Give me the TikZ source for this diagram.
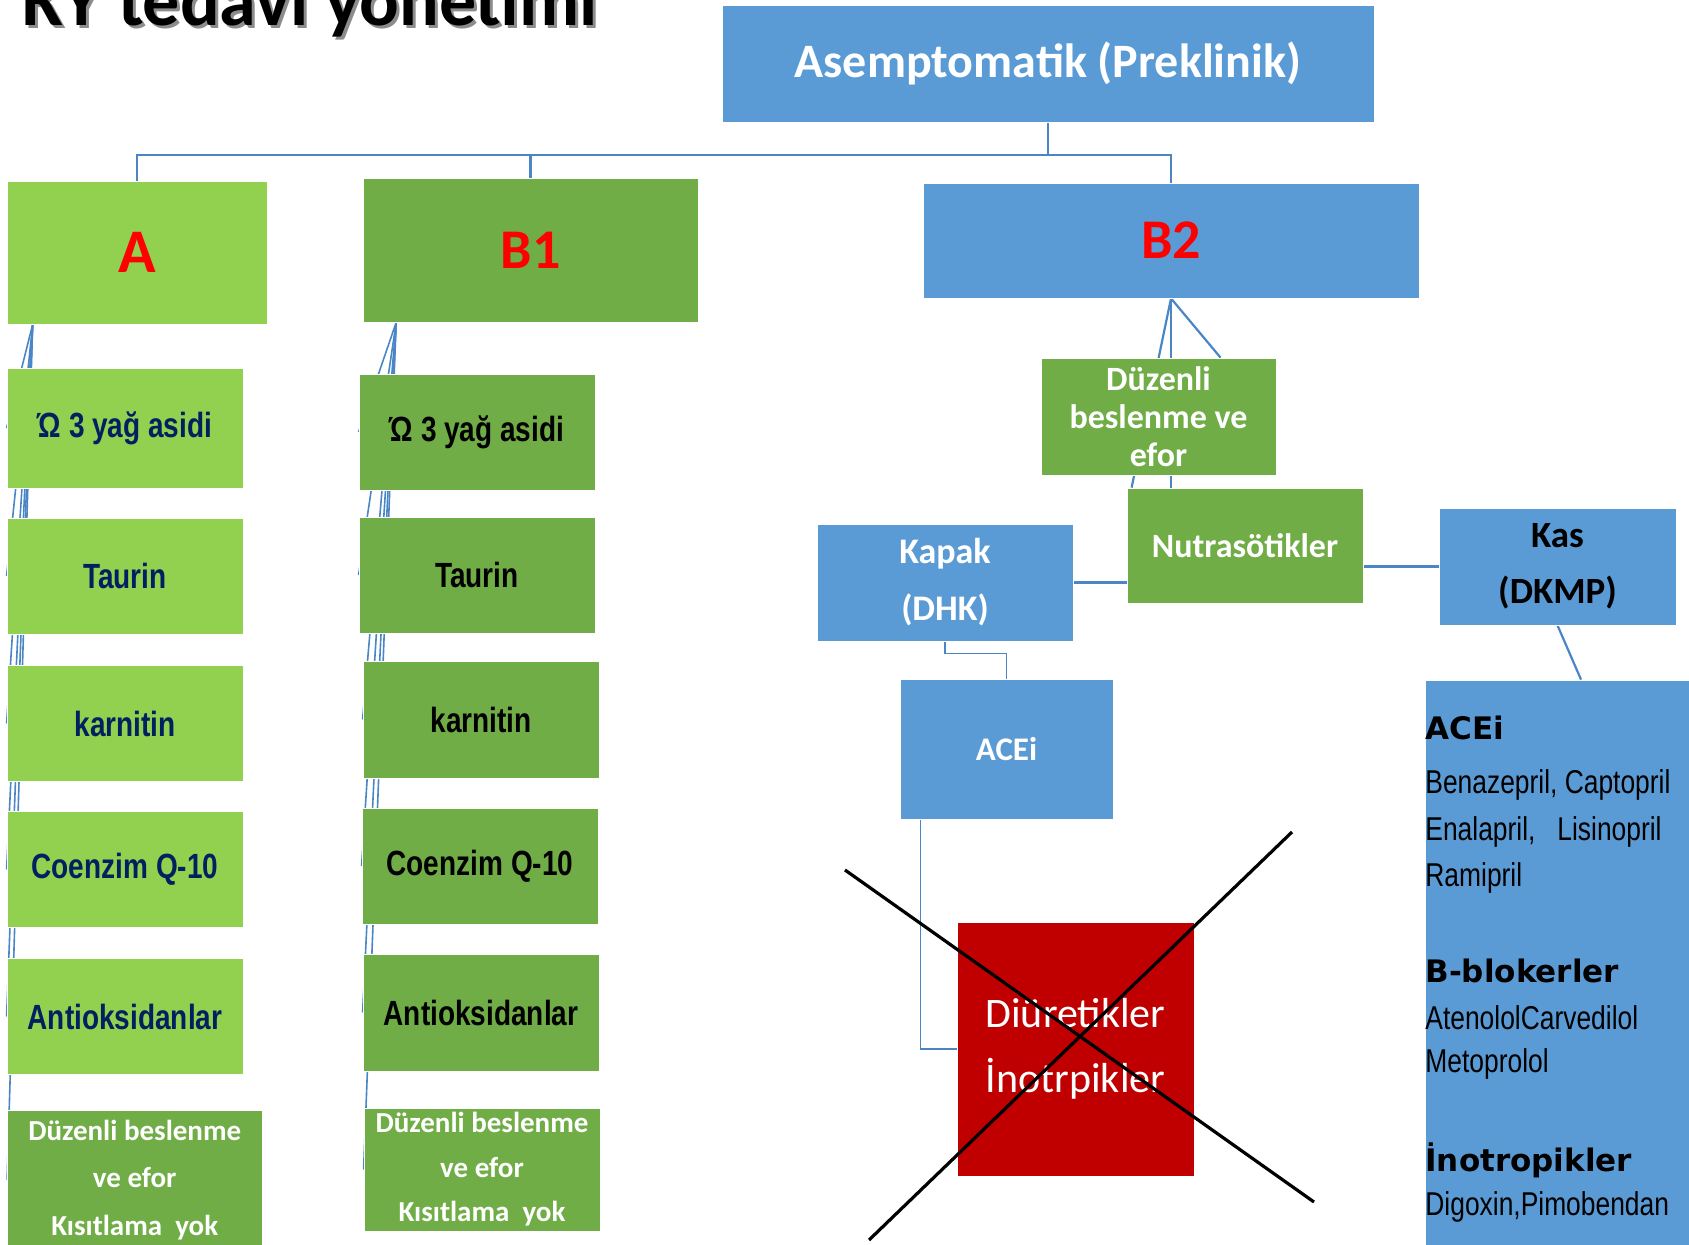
\documentclass[tikz,border=0pt]{standalone}
\usepackage{fontspec}
\setmainfont{Carlito}
\newfontfamily\narrowfont{Liberation Sans}[FakeStretch=0.8]
\newfontfamily\verdfont{DejaVu Sans}
\usetikzlibrary{calc}
\pgfdeclarelayer{background}
\pgfdeclarelayer{foreground}
\pgfsetlayers{background,main,foreground}
\definecolor{lgreen}{HTML}{92D050}
\definecolor{dgreen}{HTML}{70AD47}
\definecolor{sblue}{HTML}{5B9BD5}
\definecolor{lineblue}{HTML}{4A86C5}
\definecolor{navy}{HTML}{002060}
\definecolor{dred}{HTML}{C00000}

\begin{document}
\begin{tikzpicture}[x=0.5pt,y=-0.5pt,
  box/.style={rectangle,draw=white,line width=0.4pt,inner sep=0pt,align=center},
  itemA/.style={box,fill=lgreen,minimum width=118pt,minimum height=58pt,text=navy,font=\narrowfont\bfseries\fontsize{17.5}{21}\selectfont},
  itemB/.style={box,fill=dgreen,minimum width=118pt,minimum height=58pt,text=black,font=\narrowfont\bfseries\fontsize{17.5}{21}\selectfont},
  conn/.style={draw=lineblue,line width=1.1pt},
  fan/.style={draw=lineblue,line width=0.8pt},
  drug/.style={anchor=west,inner sep=0pt,font=\narrowfont\fontsize{16.5}{20}\selectfont},
  drughead/.style={anchor=west,inner sep=0pt,font=\verdfont\bfseries\fontsize{15.5}{18}\selectfont}]
  \useasboundingbox (0,0) rectangle (1689,1245);
  % title
  \node[anchor=base west,inner sep=0pt,text=black!45,font=\bfseries\fontsize{37}{40}\selectfont] (titleshadow) at (25,29) {KY tedavi yönetimi};
  \node[anchor=base west,inner sep=0pt,font=\bfseries\fontsize{37}{40}\selectfont] (title) at (22,26) {KY tedavi yönetimi};
  % levels
  \node[box,fill=sblue,minimum width=326pt,minimum height=58.5pt,text=white,font=\bfseries\fontsize{24}{28}\selectfont] (top) at (1048,63.5) {Asemptomatik (Preklinik)};
  \node[box,fill=lgreen,minimum width=130pt,minimum height=71.5pt,text=red,font=\bfseries\fontsize{31}{36}\selectfont] (A) at (137,252.5) {A};
  \node[box,fill=dgreen,minimum width=167.5pt,minimum height=72pt,text=red,font=\bfseries\fontsize{28}{32}\selectfont] (B1) at (530.5,250) {B1};
  \node[box,fill=sblue,minimum width=248pt,minimum height=57.5pt,text=red,font=\bfseries\fontsize{28}{32}\selectfont] (B2) at (1171,240.5) {B2};
  % column A
  \node[itemA,minimum height=60pt] (omegaA) at (125,428) {Ώ 3 yağ asidi};
  \node[itemA] (taurinA) at (125,576) {Taurin};
  \node[itemA] (karnitinA) at (125,723.5) {karnitin};
  \node[itemA] (coenzimA) at (125,869.5) {Coenzim Q-10};
  \node[itemA] (antioksA) at (125,1016.5) {Antioksidanlar};
  \node[box,fill=dgreen,minimum width=127.25pt,minimum height=70pt,text=white,font=\bfseries\fontsize{14.5}{23.75}\selectfont] (duzenliA) at (134.75,1180) {Düzenli beslenme\\ve efor\\Kısıtlama\ \ yok};
  % column B1
  \node[itemB] (omegaB) at (477,432) {Ώ 3 yağ asidi};
  \node[itemB] (taurinB) at (477,575) {Taurin};
  \node[itemB,minimum height=58.5pt] (karnitinB) at (481,719.5) {karnitin};
  \node[itemB] (coenzimB) at (480,866) {Coenzim Q-10};
  \node[itemB,minimum height=58.5pt] (antioksB) at (481,1012.5) {Antioksidanlar};
  \node[box,fill=dgreen,minimum width=118pt,minimum height=61.5pt,text=white,font=\bfseries\fontsize{14.5}{22.25}\selectfont] (duzenliB) at (482,1169.5) {Düzenli beslenme\\ve efor\\Kısıtlama\ \ yok};
  % B2 branch
  \node[box,fill=dgreen,minimum width=117.5pt,minimum height=58.5pt,text=white,font=\bfseries\fontsize{17}{19}\selectfont] (duzB2) at (1158.5,416.5) {Düzenli\\beslenme ve\\efor};
  \node[box,fill=dgreen,minimum width=118pt,minimum height=57.5pt,text=white,font=\bfseries\fontsize{17}{20}\selectfont] (nutra) at (1245,545.5) {Nutrasötikler};
  \node[box,fill=sblue,minimum width=128pt,minimum height=58.5pt,text=white,font=\bfseries\fontsize{18}{28.5}\selectfont] (kapak) at (945,582.5) {Kapak\\(DHK)};
  \node[box,fill=sblue,minimum width=118.5pt,minimum height=58.5pt,text=black,font=\bfseries\fontsize{18.5}{28}\selectfont] (kas) at (1557.5,566.5) {Kas\\(DKMP)};
  \node[box,fill=sblue,minimum width=106.5pt,minimum height=70pt,text=white,font=\bfseries\fontsize{16.5}{20}\selectfont] (aceiS) at (1006.5,749) {ACEi};
  \node[box,fill=dred,minimum width=118.5pt,minimum height=127pt,text=white,font=\fontsize{21}{32.5}\selectfont] (red) at (1075.5,1049) {Diüretikler\\İnotrpikler};
  \node[box,fill=sblue,minimum width=132pt,minimum height=291pt] (drugs) at (1557,971) {};
  % drug list
  \node[drughead] (hACEi) at (1425,728) {ACEi};
  \node[drug] (d1) at (1425,785) {Benazepril, Captopril};
  \node[drug] (d2) at (1425,832) {Enalapril,\ \ \ Lisinopril};
  \node[drug] (d3) at (1425,878) {Ramipril};
  \node[drughead] (hBB) at (1425,971) {B-blokerler};
  \node[drug] (d4) at (1425,1018) {AtenololCarvedilol};
  \node[drug] (d5) at (1425,1064) {Metoprolol};
  \node[drughead] (hIno) at (1425,1160) {İnotropikler};
  \node[drug] (d6) at (1425,1207) {Digoxin,Pimobendan};
  % cross over the red box
  \draw[line width=1.6pt] (845,870) -- (1314,1202);
  \draw[line width=1.6pt] (1292,832) -- (869,1240);
  \begin{pgfonlayer}{background}
    \draw[conn] (top.south) -- ++(0,33) -| (A.north);
    \draw[conn] (top.south) -- ++(0,33) -| (B1.north);
    \draw[conn] (top.south) -- ++(0,33) -| (B2.north);
    \coordinate (Aroot) at ($(A.south west)!0.1!(A.south east)$);
    \coordinate (Broot) at ($(B1.south west)!0.1!(B1.south east)$);
    \foreach \n in {omegaA,taurinA,karnitinA,coenzimA,antioksA,duzenliA}
      \draw[fan] (Aroot) -- (\n.west);
    \foreach \n in {omegaB,taurinB,karnitinB,coenzimB,antioksB,duzenliB}
      \draw[fan] (Broot) -- (\n.west);
    \draw[conn] (B2.south) -- ([xshift=2.5pt]nutra.north west);
    \draw[conn] (B2.south) -- (B2.south |- nutra.north);
    \draw[conn] (B2.south) -- ($(duzB2.north)+(62,0)$);
    \draw[conn] (kapak.east) -- (kapak.east -| nutra.west);
    \draw[conn] (kas.west -| nutra.east) -- (kas.west);
    \draw[conn] (kas.south) -- ($(drugs.north)+(24,0)$);
    \draw[fan] (kapak.south) -- ++(0,12) -| (aceiS.north);
    \draw[fan] ([xshift=10.5pt]aceiS.south west) |- (red.west);
  \end{pgfonlayer}
\end{tikzpicture}
\end{document}
